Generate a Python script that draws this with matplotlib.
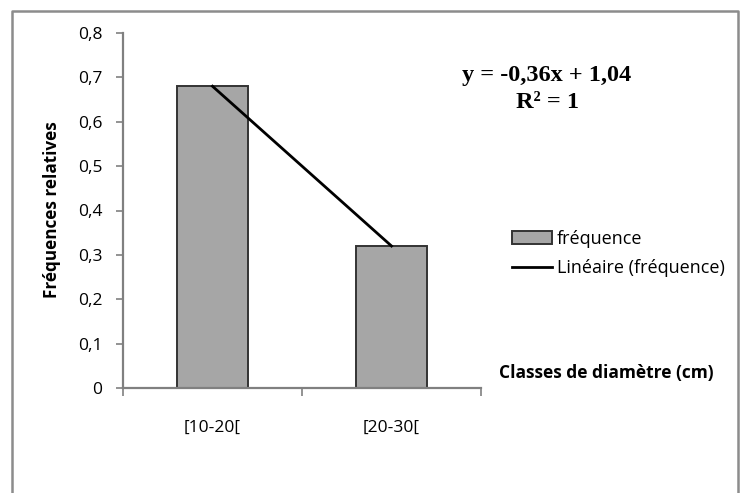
import matplotlib.pyplot as plt
import numpy as np
from matplotlib.patches import Rectangle
from matplotlib.lines import Line2D

categories = ["[10-20[", "[20-30["]
frequence = [0.68, 0.32]
slope, intercept = -0.36, 1.04
y_ticks = [0, 0.1, 0.2, 0.3, 0.4, 0.5, 0.6, 0.7, 0.8]
y_labels = ["0", "0,1", "0,2", "0,3", "0,4", "0,5", "0,6", "0,7", "0,8"]

font = ["Open Sans", "DejaVu Sans"]

W, H = 740, 493
fig = plt.figure(figsize=(W / 100, H / 100), dpi=100)

# outer frame (bottom edge lies outside the picture)
frame_x = np.array([12, 12, 738, 738]) / W
frame_y = 1 - np.array([500, 11, 11, 500]) / H
fig.add_artist(Line2D(frame_x, frame_y, transform=fig.transFigure,
                      color="#8c8c8c", linewidth=1.8))

ax = fig.add_axes([123 / W, 1 - 388 / H, (481 - 123) / W, (388 - 33) / H])

x = np.arange(len(categories))
ax.bar(x, frequence, width=0.4, color="#a6a6a6", edgecolor="#333333",
       linewidth=1.4, label="fréquence", zorder=2)
xs = np.array([1, 2])
ax.plot(x, slope * xs + intercept, color="black", linewidth=2,
        label="Linéaire (fréquence)", zorder=3)

ax.set_xlim(-0.5, len(categories) - 0.5)
ax.set_ylim(0, 0.8)
ax.set_yticks(y_ticks)
ax.set_yticklabels(y_labels, fontsize=12.5, family=font)
ax.set_xticks([-0.5, 0.5, 1.5])
ax.set_xticklabels([])
ax.set_xticks(x, minor=True)
ax.set_xticklabels(categories, minor=True, fontsize=12.5, family=font)
ax.tick_params(axis="x", which="minor", length=0, pad=23)
ax.tick_params(axis="x", which="major", length=6, width=1.2, color="#808080")
ax.tick_params(axis="y", length=5, width=1.2, color="#808080", pad=10)
for s in ["top", "right"]:
    ax.spines[s].set_visible(False)
for s in ["left", "bottom"]:
    ax.spines[s].set_color("#808080")
    ax.spines[s].set_linewidth(1.6)

fig.text(52 / W, 1 - 210 / H, "Fréquences relatives", fontsize=12.3,
         fontweight="bold", family=font, rotation=90, ha="center", va="center")

fig.text(547 / W, 1 - 75 / H, "y = -0,36x + 1,04", fontsize=17.5,
         fontweight="bold", family="Liberation Serif", ha="center", va="center")
fig.text(547 / W, 1 - 103 / H, "R² = 1", fontsize=17.5, fontweight="bold",
         family="Liberation Serif", ha="center", va="center")

fig.text(606 / W, 1 - 373 / H, "Classes de diamètre (cm)", fontsize=12.5,
         fontweight="bold", family=font, ha="center", va="center")

handles = [Rectangle((0, 0), 1, 1, facecolor="#a6a6a6", edgecolor="#333333",
                     linewidth=1.4),
           Line2D([0], [0], color="black", linewidth=2)]
fig.legend(handles, ["fréquence", "Linéaire (fréquence)"],
           loc="center left", bbox_to_anchor=(512 / W, 1 - 253.5 / H),
           frameon=False, borderpad=0, borderaxespad=0,
           prop={"family": font, "size": 13}, handlelength=2.2,
           handletextpad=0.28, labelspacing=0.65)

fig.savefig("out.png", dpi=100)
